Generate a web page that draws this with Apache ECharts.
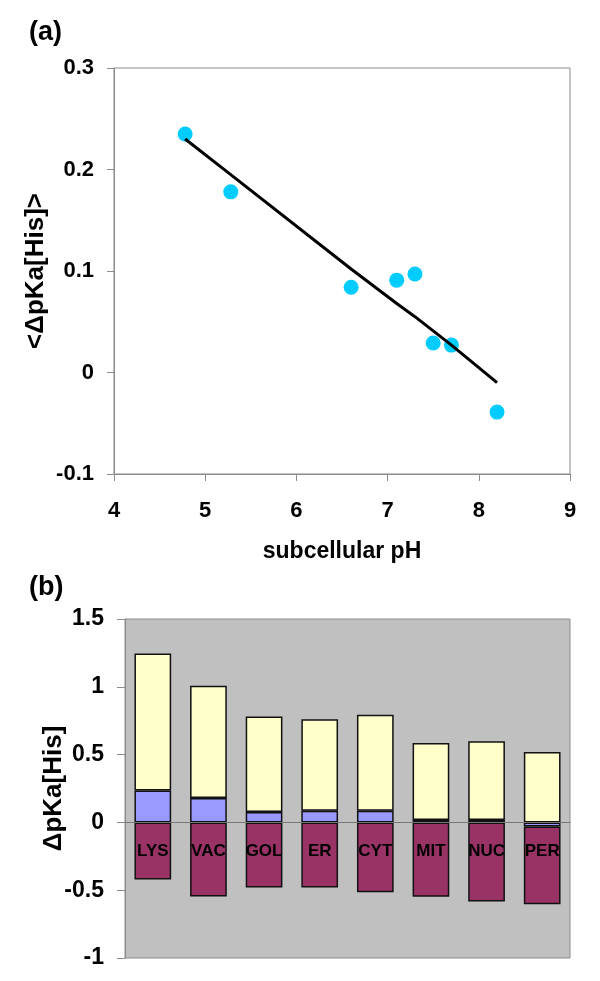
<!DOCTYPE html>
<html>
<head>
<meta charset="utf-8">
<script src="https://cdn.jsdelivr.net/npm/echarts@6/dist/echarts.min.js"></script>
<style>
html,body{margin:0;padding:0;background:#fff;}
#chart{width:600px;height:981px;}
</style>
</head>
<body>
<div id="chart"></div>
<script>
// Panel (a): mean ΔpKa[His] vs subcellular pH
const pHValues = [4.78, 5.28, 6.6, 7.1, 7.3, 7.5, 7.7, 8.2];
const meanDpKa = [0.235, 0.178, 0.084, 0.091, 0.097, 0.029, 0.027, -0.039];
const fitValues = [0.230, 0.195, 0.102, 0.068, 0.055, 0.041, 0.027, -0.010];
const xTicksA = [4, 9, 1];      // min, max, interval
const yTicksA = [-0.1, 0.3, 0.1];

// Panel (b): ΔpKa[His] components per compartment
const compartments = ['LYS', 'VAC', 'GOL', 'ER', 'CYT', 'MIT', 'NUC', 'PER'];
const netShift = [0.236, 0.180, 0.076, 0.086, 0.086, 0.017, 0.017, -0.030];
const positiveTop = [1.246, 1.007, 0.781, 0.761, 0.793, 0.586, 0.598, 0.519];
const negativeBottom = [-0.421, -0.547, -0.480, -0.480, -0.515, -0.549, -0.583, -0.603];
const yTicksB = [-1, 1.5, 0.5];

const FONT = 'Liberation Sans, Arial, sans-serif';
const yellowSeg = positiveTop.map((v, i) => +(v - Math.max(netShift[i], 0)).toFixed(3));
const purpleSeg = negativeBottom.map((v, i) => +(v - Math.min(netShift[i], 0)).toFixed(3));

const chart = echarts.init(document.getElementById('chart'), null, {renderer: 'canvas'});
const tickLabel = {color: '#000', fontFamily: FONT, fontWeight: 'bold', fontSize: 22};
const border = '#8c8c8c';
const nameStyle = {color: '#000', fontFamily: FONT, fontWeight: 'bold', fontSize: 26};

chart.setOption({
  animation: false,
  backgroundColor: '#fff',
  title: [
    {text: '(a)', left: 24, top: 14, textStyle: {fontFamily: FONT, fontWeight: 'bold', fontSize: 27, color: '#000'}},
    {text: '(b)', left: 24, top: 569, textStyle: {fontFamily: FONT, fontWeight: 'bold', fontSize: 27, color: '#000'}}
  ],
  grid: [
    {left: 114, right: 30, top: 68, height: 406, show: true, borderColor: border, borderWidth: 1, backgroundColor: '#fff'},
    {left: 125, right: 30, top: 619, height: 339, show: true, borderColor: border, borderWidth: 1, backgroundColor: '#c0c0c0'}
  ],
  xAxis: [
    {
      type: 'value', gridIndex: 0, min: xTicksA[0], max: xTicksA[1], interval: xTicksA[2],
      name: 'subcellular pH', nameLocation: 'middle', nameGap: 66, nameMoveOverlap: false,
      nameTextStyle: Object.assign({}, nameStyle, {fontSize: 23}),
      axisLine: {onZero: false, lineStyle: {color: border}},
      axisTick: {length: 7, lineStyle: {color: border}},
      axisLabel: Object.assign({margin: 26}, tickLabel),
      splitLine: {show: false}
    },
    {
      type: 'category', gridIndex: 1, data: compartments, z: 10,
      offset: -136,
      axisLine: {onZero: false, lineStyle: {color: '#777'}},
      axisTick: {length: 6, lineStyle: {color: '#777'}},
      axisLabel: {color: '#000', fontFamily: FONT, fontWeight: 'bold', fontSize: 17, margin: 21},
      splitLine: {show: false}
    }
  ],
  yAxis: [
    {
      type: 'value', gridIndex: 0, min: yTicksA[0], max: yTicksA[1], interval: yTicksA[2],
      name: '<ΔpKa[His]>', nameLocation: 'middle', nameGap: 65, nameRotate: 90, nameMoveOverlap: false,
      nameTextStyle: nameStyle,
      axisLine: {show: true, lineStyle: {color: border}},
      axisTick: {show: true, length: 7, lineStyle: {color: border}},
      axisLabel: Object.assign({margin: 20}, tickLabel),
      splitLine: {show: false}
    },
    {
      type: 'value', gridIndex: 1, min: yTicksB[0], max: yTicksB[1], interval: yTicksB[2],
      name: 'ΔpKa[His]', nameLocation: 'middle', nameGap: 58, nameRotate: 90, nameMoveOverlap: false,
      nameTextStyle: nameStyle,
      axisLine: {show: true, lineStyle: {color: border}},
      axisTick: {show: true, length: 8, lineStyle: {color: border}},
      axisLabel: Object.assign({margin: 21}, tickLabel, {fontSize: 23}),
      splitLine: {show: false}
    }
  ],
  series: [
    {
      type: 'scatter', xAxisIndex: 0, yAxisIndex: 0, z: 2,
      data: pHValues.map((x, i) => [x, meanDpKa[i]]),
      symbol: 'circle', symbolSize: 15,
      itemStyle: {color: '#00ccff', opacity: 1}
    },
    {
      type: 'line', xAxisIndex: 0, yAxisIndex: 0, z: 3,
      data: pHValues.map((x, i) => [x, fitValues[i]]),
      showSymbol: false, symbol: 'none',
      lineStyle: {color: '#000', width: 3}
    },
    {
      type: 'bar', xAxisIndex: 1, yAxisIndex: 1, stack: 'b', barWidth: '66%',
      data: netShift,
      itemStyle: {color: '#9999ff', borderColor: '#111', borderWidth: 1.5}
    },
    {
      type: 'bar', xAxisIndex: 1, yAxisIndex: 1, stack: 'b', barWidth: '66%',
      data: yellowSeg,
      itemStyle: {color: '#ffffcc', borderColor: '#111', borderWidth: 1.5}
    },
    {
      type: 'bar', xAxisIndex: 1, yAxisIndex: 1, stack: 'b', barWidth: '66%',
      data: purpleSeg,
      itemStyle: {color: '#993366', borderColor: '#111', borderWidth: 1.5}
    }
  ]
});
</script>
</body>
</html>
